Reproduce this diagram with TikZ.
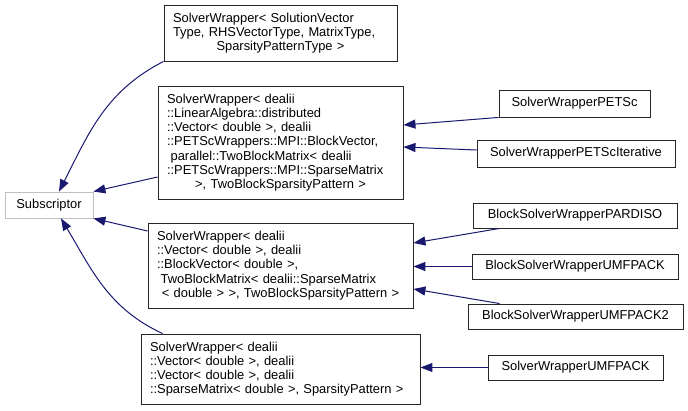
\documentclass[tikz,border=0pt]{standalone}
\usepackage{fontspec}
\setmainfont{Liberation Sans}
\usetikzlibrary{arrows.meta}
\definecolor{edgeblue}{HTML}{191970}
\definecolor{basegray}{HTML}{BFBFBF}

\tikzset{
  cls/.style={draw=black!85, fill=white, line width=0.9pt,
    font=\fontsize{12.9}{14.2}\selectfont, inner xsep=9pt, inner ysep=3pt,
    align=left},
  leaf/.style={draw=black!85, fill=white, line width=0.9pt,
    font=\fontsize{12.9}{14.2}\selectfont, inner sep=0pt, minimum height=25pt},
  basecls/.style={leaf, draw=basegray},
  inh/.style={edgeblue, line width=1pt,
    -{Triangle[length=12pt,width=9pt]}}
}

\begin{document}
\begin{tikzpicture}[x=1pt,y=1pt]
  \useasboundingbox (0,0) rectangle (688,410);

  % base class
  \node[basecls, minimum width=88pt, minimum height=26pt] (sub) at (49,205) {Subscriptor};

  % solver wrappers
  \node[cls, text width=215pt, minimum height=56pt] (sw1) at (280.5,377)
    {SolverWrapper< SolutionVector\\Type, RHSVectorType, MatrixType,\\
     \makebox[\hsize]{SparsityPatternType >}};
  \node[cls, text width=227pt, minimum height=113pt] (sw2) at (280.5,267.5)
    {SolverWrapper< dealii\\::LinearAlgebra::distributed\\
     ::Vector< double >, dealii\\::PETScWrappers::MPI::BlockVector,\\
     \hspace*{0.28em}parallel::TwoBlockMatrix< dealii\\
     ::PETScWrappers::MPI::SparseMatrix\\
     \makebox[\hsize]{>, TwoBlockSparsityPattern >}};
  \node[cls, text width=247pt, minimum height=85pt] (sw3) at (280.5,144.5)
    {SolverWrapper< dealii\\::Vector< double >, dealii\\
     ::BlockVector< double >,\\
     \hspace*{0.28em}TwoBlockMatrix< dealii::SparseMatrix\\
     \makebox[\hsize]{< double > >, TwoBlockSparsityPattern >}};
  \node[cls, text width=261pt, minimum height=70pt] (sw4) at (280.5,41)
    {SolverWrapper< dealii\\::Vector< double >, dealii\\
     ::Vector< double >, dealii\\
     ::SparseMatrix< double >, SparsityPattern >};

  % derived classes
  \node[leaf, minimum width=151pt, minimum height=27pt] (petsc) at (574.5,306.5) {SolverWrapperPETSc};
  \node[leaf, minimum width=198pt, minimum height=27pt] (petscit) at (576,256.5) {SolverWrapperPETScIterative};
  \node[leaf, minimum width=204pt] (pardiso) at (575,194.5) {BlockSolverWrapperPARDISO};
  \node[leaf, minimum width=206pt] (umf) at (575,143.5) {BlockSolverWrapperUMFPACK};
  \node[leaf, minimum width=215pt] (umftwo) at (575.5,93.5) {BlockSolverWrapperUMFPACK2};
  \node[leaf, minimum width=175pt] (swumf) at (575.5,42.5) {SolverWrapperUMFPACK};

  % inheritance
  \draw[inh] (petsc.south west) -- ([yshift=17.5pt]sw2.east);
  \draw[inh] ([yshift=3.5pt]petscit.west) -- ([yshift=-4.5pt]sw2.east);
  \draw[inh] ([xshift=27pt]pardiso.south west) -- ([yshift=22.5pt]sw3.east);
  \draw[inh] (umf.west) -- (umf.west -| sw3.east);
  \draw[inh] ([xshift=32pt]umftwo.north west) -- ([yshift=-23.5pt]sw3.east);
  \draw[inh] (swumf.west) -- (swumf.west -| sw4.east);

  \draw[inh] (sw1.south west) to[out=207,in=63] ([xshift=10pt]sub.north);
  \draw[inh] ([yshift=-34.5pt]sw2.west) -- (sub.north east);
  \draw[inh] ([yshift=34.5pt]sw3.west) -- (sub.south east);
  \draw[inh] ([xshift=22pt]sw4.north west) to[out=155,in=-59] ([xshift=12pt]sub.south);
\end{tikzpicture}
\end{document}
